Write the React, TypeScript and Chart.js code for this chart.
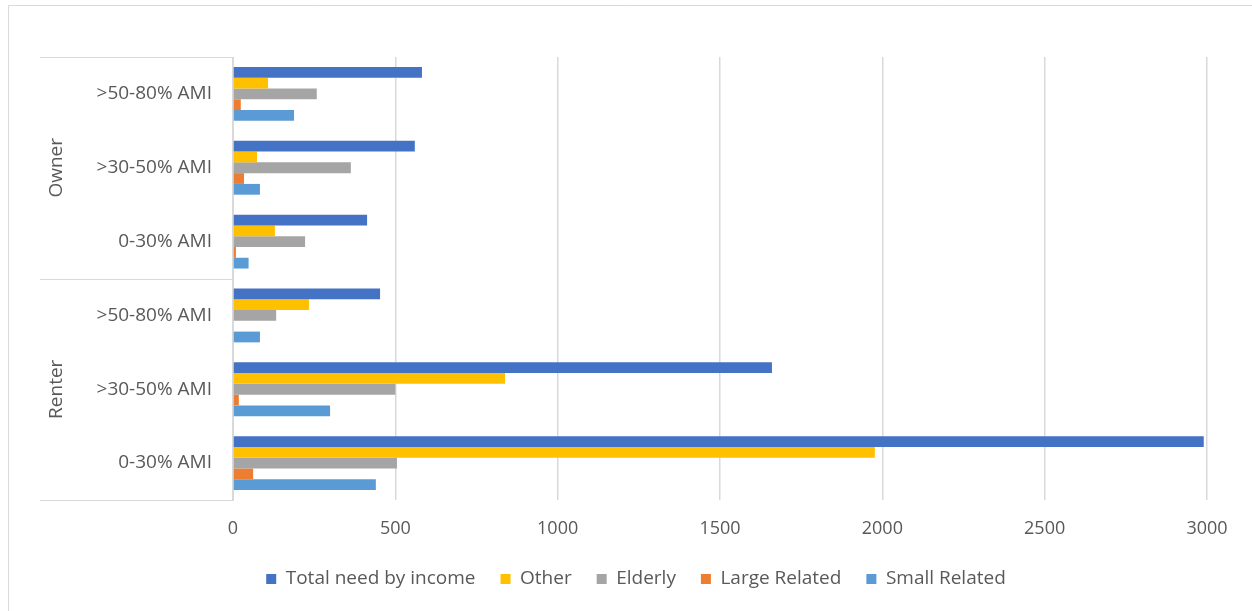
import React, { useEffect, useRef } from "react";
import { Chart, registerables } from "chart.js";

Chart.register(...registerables);

const categories = [">50-80% AMI", ">30-50% AMI", "0-30% AMI", ">50-80% AMI", ">30-50% AMI", "0-30% AMI"];
const groups = ["Owner", "Renter"];
const groupSizes = [3, 3];
const seriesNames = ["Total need by income", "Other", "Elderly", "Large Related", "Small Related"];
const totalNeed = [582, 560, 413, 453, 1660, 2990];
const other = [108, 74, 129, 234, 838, 1977];
const elderly = [258, 363, 222, 133, 500, 505];
const largeRelated = [24, 34, 9, 0, 18, 62];
const smallRelated = [188, 83, 48, 83, 299, 440];
const xTicks = [0, 500, 1000, 1500, 2000, 2500, 3000];
const colors = ["#4472C4", "#FFC000", "#A5A5A5", "#ED7D31", "#5B9BD5"];

const FONT = "'Open Sans', sans-serif";
const FS = 19;
const TICK_FS = 18;
const TEXT = "#595959";
const LINE = "#D9D9D9";

const groupPlugin = {
  id: "groupAxis",
  afterDraw(chart: any) {
    const ctx = chart.ctx;
    const y = chart.scales.y;
    const left = 40;
    const right = chart.chartArea.left;
    ctx.save();
    ctx.strokeStyle = LINE;
    ctx.lineWidth = 1;
    ctx.beginPath();
    ctx.moveTo(8.5, 611);
    ctx.lineTo(8.5, 5.5);
    ctx.lineTo(1252, 5.5);
    ctx.stroke();
    const bounds: number[] = [y.top];
    let idx = 0;
    groupSizes.forEach((n, gi) => {
      idx += n;
      if (gi < groupSizes.length - 1) {
        bounds.push((y.getPixelForValue(idx - 1) + y.getPixelForValue(idx)) / 2);
      }
    });
    bounds.push(y.bottom);
    ctx.beginPath();
    bounds.forEach((b) => {
      const yy = Math.round(b) + 0.5;
      ctx.moveTo(left, yy);
      ctx.lineTo(right, yy);
    });
    ctx.stroke();
    ctx.fillStyle = TEXT;
    ctx.font = `${FS}px ${FONT}`;
    ctx.textAlign = "center";
    ctx.textBaseline = "middle";
    groups.forEach((g, gi) => {
      const cy = (bounds[gi] + bounds[gi + 1]) / 2;
      ctx.save();
      ctx.translate(57, cy);
      ctx.rotate(-Math.PI / 2);
      ctx.fillText(g, 0, 0);
      ctx.restore();
    });
    ctx.restore();
  },
};

export default function App() {
  const ref = useRef<HTMLCanvasElement | null>(null);
  useEffect(() => {
    if (!ref.current) return;
    const series = [totalNeed, other, elderly, largeRelated, smallRelated];
    const chart = new Chart(ref.current, {
      type: "bar",
      data: {
        labels: categories,
        datasets: series.map((d, i) => ({
          label: seriesNames[i],
          data: d,
          backgroundColor: colors[i],
          borderWidth: 0,
          categoryPercentage: 0.73,
          barPercentage: 1.0,
        })),
      },
      options: {
        indexAxis: "y",
        animation: false,
        responsive: false,
        maintainAspectRatio: false,
        layout: { padding: { left: 65, right: 45, top: 57, bottom: 12.5 } },
        plugins: {
          legend: {
            position: "bottom",
            labels: {
              boxWidth: 10,
              boxHeight: 10,
              padding: 25,
              color: TEXT,
              font: { family: FONT, size: FS },
            },
          },
          tooltip: { enabled: false },
        },
        scales: {
          x: {
            min: 0,
            max: 3000,
            afterBuildTicks: (s: any) => {
              s.ticks = xTicks.map((v) => ({ value: v }));
            },
            afterFit: (s: any) => {
              s.height = 44.5;
            },
            grid: { color: LINE, drawTicks: false, lineWidth: 1.5 },
            border: { display: false },
            ticks: {
              color: TEXT,
              font: { family: FONT, size: TICK_FS },
              padding: 18,
              maxRotation: 0,
              callback: (v: any) => String(v),
            },
          },
          y: {
            afterFit: (s: any) => {
              s.width = 168;
            },
            grid: { display: false, drawTicks: false },
            border: { display: true, color: LINE, width: 1 },
            ticks: { color: TEXT, font: { family: FONT, size: FS }, padding: 21 },
          },
        },
      },
      plugins: [groupPlugin],
    } as any);
    return () => chart.destroy();
  }, []);
  return (
    <div style={{ position: "absolute", left: 0, top: 0, width: 1252, height: 611, background: "#fff" }}>
      <canvas ref={ref} width={1252} height={611} style={{ display: "block" }} />
    </div>
  );
}
